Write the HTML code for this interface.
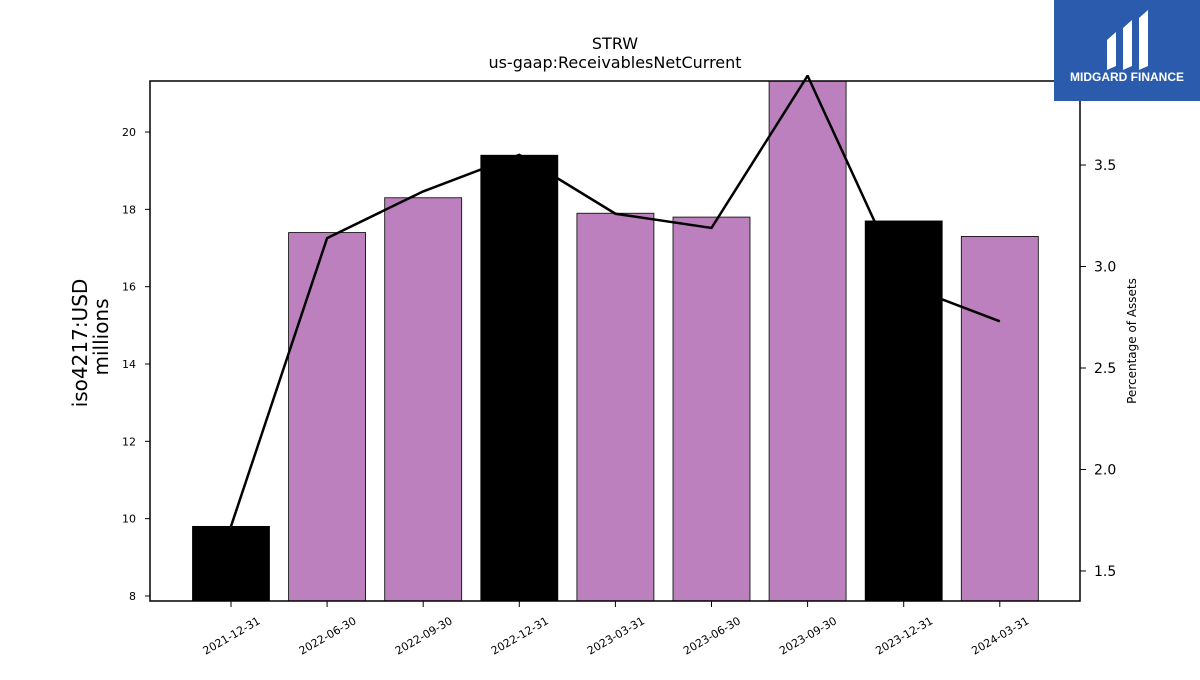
<!DOCTYPE html>
<html><head><meta charset="utf-8"><style>
body{margin:0;background:#fff;width:1200px;height:675px;overflow:hidden;font-family:"Liberation Sans","DejaVu Sans",sans-serif}
</style></head><body>
<svg id="chart" width="1200" height="675" xmlns="http://www.w3.org/2000/svg" font-family="DejaVu Sans, Liberation Sans, sans-serif">
<text x="615" y="49" text-anchor="middle" font-size="16">STRW</text>
<text x="615" y="68" text-anchor="middle" font-size="16">us-gaap:ReceivablesNetCurrent</text>
<g id="bars"></g>
<g id="line"></g>
<g id="axes"></g>
<rect x="150" y="81" width="930" height="520" fill="none" stroke="#000" stroke-width="1.5"/>
<text transform="translate(87,343) rotate(-90)" text-anchor="middle" font-size="20">iso4217:USD</text>
<text transform="translate(108,337) rotate(-90)" text-anchor="middle" font-size="20">millions</text>
<text transform="translate(1136,341) rotate(-90)" text-anchor="middle" font-size="12">Percentage of Assets</text>
<g>
<rect x="1054" y="0" width="146" height="101" fill="#2b5bad"/>
<path d="M1107 40 L1116 32 L1116 66 L1107 70 Z" fill="#fff"/>
<path d="M1123 28 L1132 20 L1132 66 L1123 70 Z" fill="#fff"/>
<path d="M1139 18 L1148 10 L1148 66 L1139 70 Z" fill="#fff"/>
<text x="1127" y="81" text-anchor="middle" font-size="12" font-weight="bold" fill="#fff" font-family="Liberation Sans, sans-serif">MIDGARD FINANCE</text>
</g>
</svg>
<script>
const categories=["2021-12-31","2022-06-30","2022-09-30","2022-12-31","2023-03-31","2023-06-30","2023-09-30","2023-12-31","2024-03-31"];
const values=[9.8,17.4,18.3,19.4,17.9,17.8,21.5,17.7,17.3];
const pctAssets=[1.72,3.14,3.37,3.55,3.26,3.19,3.94,2.91,2.73];
const annualFlags=[true,false,false,true,false,false,false,true,false];
const leftTicks=[8,10,12,14,16,18,20];
const rightTicks=[1.5,2.0,2.5,3.0,3.5];
const NS="http://www.w3.org/2000/svg";
const L=150,R=1080,T=81,B=601;
const yMin=7.87,yMax=21.32,y2Min=1.352,y2Max=3.914;
const y=v=>B-(v-yMin)/(yMax-yMin)*(B-T);
const y2=v=>B-(v-y2Min)/(y2Max-y2Min)*(B-T);
const step=(R-L)/(categories.length+0.675);
const x=i=>231+i*96.1;
const bw=77;
function mk(tag,attrs,parent){const e=document.createElementNS(NS,tag);for(const k in attrs)e.setAttribute(k,attrs[k]);parent.appendChild(e);return e;}
const gb=document.getElementById('bars'),gl=document.getElementById('line'),ga=document.getElementById('axes');
values.forEach((v,i)=>{
 const top=Math.max(y(v),T);
 const r=mk('rect',{x:x(i)-bw/2,y:top,width:bw,height:B-top,fill:annualFlags[i]?'#000':'#bb80bd',stroke:'#000','stroke-width':0.8},gb);
 
 
});
const cp=mk('clipPath',{id:'clip'},gl);mk('rect',{x:L,y:T-6,width:R-L,height:B-T+6},cp);
const p=mk('polyline',{points:pctAssets.map((v,i)=>x(i)+','+y2(v)).join(' '),fill:'none',stroke:'#000','stroke-width':2.5,'clip-path':'url(#clip)'},gl);


leftTicks.forEach(t=>{
 mk('line',{x1:L-5,x2:L,y1:y(t),y2:y(t),stroke:'#000'},ga);
 const tx=mk('text',{x:L-14,y:y(t)+4,'text-anchor':'end','font-size':11},ga);tx.textContent=t;
 
 
});
rightTicks.forEach(t=>{
 mk('line',{x1:R,x2:R+6,y1:y2(t),y2:y2(t),stroke:'#000'},ga);
 const tx=mk('text',{x:R+14,y:y2(t)+5,'font-size':14},ga);tx.textContent=t.toFixed(1);
 
 
});
categories.forEach((c,i)=>{
 mk('line',{x1:x(i),x2:x(i),y1:B,y2:B+6,stroke:'#000'},ga);
 const tx=mk('text',{transform:`translate(${x(i)+30},${B+22}) rotate(-30)`,'text-anchor':'end','font-size':11},ga);tx.textContent=c;
 
 
});
</script>
</body></html>
